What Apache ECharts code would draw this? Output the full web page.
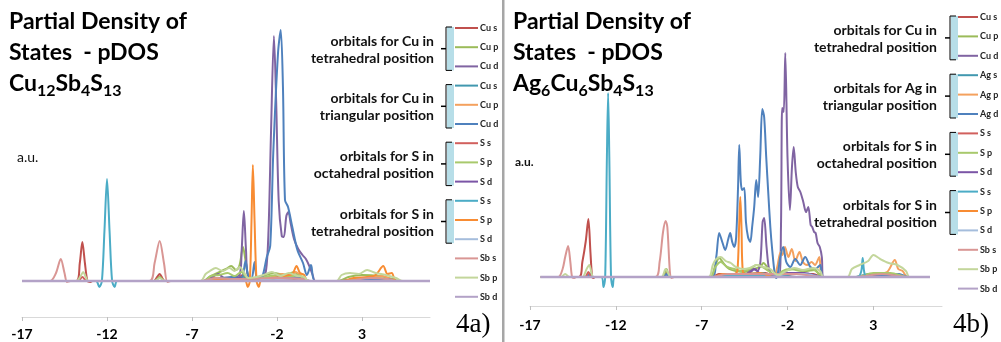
<!DOCTYPE html>
<html>
<head>
<meta charset="utf-8">
<script src="https://cdn.jsdelivr.net/npm/echarts@6/dist/echarts.min.js"></script>
<style>
  html, body { margin: 0; padding: 0; background: #fff; }
  #chart { width: 1001px; height: 342px; }
</style>
</head>
<body>
<div id="chart"></div>
<script>
// energy axis ticks (eV)
const energyTicks = [-17, -12, -7, -2, 3]

const orbitalsA = ['Cu s', 'Cu p', 'Cu d', 'Cu s', 'Cu p', 'Cu d', 'S s', 'S p', 'S d', 'S s', 'S p', 'S d', 'Sb s', 'Sb p', 'Sb d']
const orbitalsB = ['Cu s', 'Cu p', 'Cu d', 'Ag s', 'Ag p', 'Ag d', 'S s', 'S p', 'S d', 'S s', 'S p', 'S d', 'Sb s', 'Sb p', 'Sb d']
const groupsA = ['orbitals for Cu in\ntetrahedral position', 'orbitals for Cu in\ntriangular position', 'orbitals for S in\noctahedral position', 'orbitals for S in\ntetrahedral position']
const groupsB = ['orbitals for Cu in\ntetrahedral position', 'orbitals for Ag in\ntriangular position', 'orbitals for S in\noctahedral position', 'orbitals for S in\ntetrahedral position']
const colors = ['#c0504d', '#9bbb59', '#8064a2', '#4198af', '#f4a15e', '#4f81bd', '#d1605d', '#a8c96c', '#7b55a6', '#4bacc6', '#f88c33', '#a5bddc', '#d99694', '#c3d69b', '#b3a2c7']

// ---- 4a) Cu12Sb4S13, pairs of [energy, pDOS] ----
const a_cuS_tet = [[-17, 0], [-13.8, 0], [-13.6, 1.8], [-13.45, 3.9], [-13.3, 1.8], [-13.15, 0], [-13.0, -0.1], [-12.85, 0], [-9.25, 0], [-9.05, 0.4], [-8.9, 0.7], [-8.75, 0.3], [-8.6, 0], [-6.3, 0], [-6.0, 0.3], [-5.2, 0.3], [-4.4, 0.2], [-4.0, 0.6], [-3.8, 0.3], [-3.0, 0.1], [-2.0, 0.3], [-1.0, 0.2], [-0.5, 0.1], [-0.3, 0], [1.5, 0], [2.5, 0.15], [4, 0.2], [5, 0], [7, 0]]
const a_cuP_tet = [[-17, 0], [-9.2, 0], [-8.9, 0.4], [-8.6, 0], [-6.3, 0], [-6.0, 0.4], [-5.5, 0.8], [-5.0, 1.2], [-4.7, 1.5], [-4.4, 1.1], [-4.2, 1.6], [-4.0, 3.4], [-3.85, 2.0], [-3.7, 0.6], [-3.4, 0.2], [-2.8, 0.5], [-2.2, 0.8], [-1.5, 0.6], [-1.0, 0.9], [-0.6, 0.4], [-0.3, 0], [1.6, 0], [2.2, 0.4], [3.0, 0.6], [4.0, 0.5], [4.8, 0.2], [5.2, 0], [7, 0]]
const a_cuD_tet = [[-17, 0], [-6.3, 0], [-5.9, 0.3], [-5.45, 0.7], [-5.1, 0.3], [-4.6, 0.4], [-4.2, 0.6], [-4.08, 3.0], [-3.95, 7.0], [-3.82, 3.0], [-3.7, 0.5], [-3.3, 0.2], [-2.9, 0.4], [-2.65, 1.0], [-2.5, 5.0], [-2.35, 15], [-2.18, 24.5], [-2.05, 18], [-1.9, 8], [-1.72, 4.5], [-1.6, 4.4], [-1.45, 6.5], [-1.33, 6.9], [-1.2, 5.8], [-1.0, 4.2], [-0.75, 3.2], [-0.5, 2.6], [-0.3, 2.2], [-0.1, 1.5], [0.1, 0.6], [0.25, 0], [1.8, 0], [3, 0.2], [4.5, 0.2], [5, 0], [7, 0]]
const a_cuS_tri = [[-17, 0], [-6.2, 0], [-5.5, 0.2], [-4.8, 0.15], [-3.9, 0.4], [-3.6, 0], [-2.5, 0.3], [-1.5, 0.4], [-0.6, 0.3], [-0.3, 0], [7, 0]]
const a_cuP_tri = [[-17, 0], [-6.2, 0], [-5.6, 0.3], [-4.9, 0.2], [-4.3, 0.3], [-3.9, 0.2], [-3.6, 0], [-2.5, 0.3], [-1.7, 0.7], [-1.2, 0.5], [-0.9, 0.9], [-0.6, 0.5], [-0.3, 0], [1.8, 0], [3.0, 0.2], [4.2, 0.5], [5.0, 0], [7, 0]]
const a_cuD_tri = [[-17, 0], [-6.2, 0], [-5.6, 0.2], [-4.6, 0.4], [-4.1, 0.3], [-3.85, 2.0], [-3.7, 0.5], [-3.5, 0.2], [-3.32, 1.9], [-3.2, 0.3], [-3.0, 0], [-2.8, 0.8], [-2.6, 2.4], [-2.4, 3.5], [-2.22, 12.8], [-1.94, 22.8], [-1.78, 25.1], [-1.65, 19.4], [-1.53, 8.1], [-1.35, 7.4], [-1.1, 5.4], [-0.8, 3.1], [-0.47, 1.8], [-0.24, 0.6], [0, 1.6], [0.24, 0], [1.8, 0], [3, 0.15], [4.5, 0.2], [5, 0], [7, 0]]
const a_sS_oct = [[-17, 0], [-13.7, 0], [-13.45, 0.4], [-13.2, 0], [-6.2, 0], [-5.5, 0.15], [-4.0, 0.2], [-3, 0], [7, 0]]
const a_sP_oct = [[-17, 0], [-6.3, 0], [-5.9, 0.5], [-5.4, 0.6], [-4.9, 0.8], [-4.5, 0.5], [-4.1, 0.9], [-3.8, 0.4], [-3.4, 0.1], [-2.7, 0.4], [-2.0, 0.6], [-1.3, 0.4], [-0.8, 0.6], [-0.4, 0.3], [-0.2, 0], [2.0, 0], [3.0, 0.3], [4.0, 0.3], [5, 0], [7, 0]]
const a_sD_oct = [[-17, 0], [-5, 0], [-4.2, 0.3], [-3.8, 0], [-2.5, 0.2], [-1, 0.3], [0, 0], [7, 0]]
const a_sS_tet = [[-17, 0], [-12.65, 0], [-12.45, -0.6], [-12.3, 0], [-12.15, 5], [-12.0, 10.2], [-11.85, 5], [-11.7, 0], [-11.55, -0.6], [-11.4, 0], [7, 0]]
const a_sP_tet = [[-17, 0], [-6.2, 0], [-5.8, 0.2], [-5.0, 0.2], [-4.3, 0.2], [-3.85, 0], [-3.72, -0.6], [-3.6, 0], [-3.5, 6], [-3.42, 11.6], [-3.32, 6], [-3.2, 0], [-3.07, -0.6], [-2.95, 0], [-2.4, 0.2], [-1.6, 0.5], [-1.1, 0.7], [-0.85, 1.5], [-0.65, 0.8], [-0.4, 0.6], [-0.2, 0], [1.8, 0], [2.5, 0.3], [3.3, 0.4], [3.8, 0.6], [4.25, 1.5], [4.5, 0.7], [4.75, 0.8], [5.0, 0], [7, 0]]
const a_sD_tet = [[-17, 0], [-3.5, 0], [-2.5, 0.2], [-1, 0.25], [0, 0], [7, 0]]
const a_sbS = [[-17, 0], [-15.35, 0], [-15.0, 0.8], [-14.72, 2.2], [-14.5, 0.8], [-14.35, -0.1], [-14.15, 0], [-9.5, 0], [-9.2, 1.8], [-8.9, 4.0], [-8.65, 1.8], [-8.45, -0.1], [-8.25, 0], [-6.5, 0], [-5.5, 0.3], [-4.5, 0.2], [-2, 0.3], [-0.5, 0.2], [0, 0], [2, 0], [3.5, 0.3], [4.5, 0.2], [5, 0], [7, 0]]
const a_sbP = [[-17, 0], [-13.8, 0], [-13.55, 0.5], [-13.4, 0.9], [-13.25, 0.4], [-13.1, 0], [-9.2, 0], [-8.9, 0.3], [-8.6, 0], [-6.5, 0], [-6.2, 0.7], [-5.95, 1.0], [-5.6, 1.3], [-5.2, 1.0], [-4.8, 1.3], [-4.5, 1.0], [-4.2, 1.4], [-3.95, 0.9], [-3.7, 0.3], [-3.2, 0.4], [-2.8, 0.6], [-2.3, 0.9], [-1.8, 0.5], [-1.3, 0.8], [-0.8, 0.5], [-0.4, 0.4], [-0.15, 0], [1.5, 0], [1.8, 0.6], [2.3, 0.8], [2.8, 0.7], [3.3, 1.1], [3.8, 0.8], [4.4, 0.6], [5.0, 0.3], [5.4, 0], [7, 0]]
const a_sbD = [[-17, 0], [7, 0]]

// ---- 4b) Ag6Cu6Sb4S13 ----
const b_cuS_tet = [[-16.4, 0], [-14.15, 0], [-13.95, 1.5], [-13.75, 3.6], [-13.6, 5.8], [-13.48, 2.5], [-13.38, 0], [-13.3, -0.1], [-13.2, 0], [-9.2, 0], [-9.05, 0.4], [-8.9, 0], [-6.4, 0], [-6.0, 0.3], [-5.0, 0.3], [-4.0, 0.3], [-3.3, 0.4], [-2.7, 0], [-1.5, 0.3], [-0.5, 0.3], [0, 0], [6.3, 0]]
const b_cuP_tet = [[-16.4, 0], [-9.3, 0], [-9.05, 0.8], [-8.85, 0], [-6.5, 0], [-6.2, 1.2], [-5.98, 1.9], [-5.7, 1.3], [-5.4, 0.8], [-5.0, 0.6], [-4.5, 0.5], [-4.0, 0.8], [-3.6, 1.0], [-3.4, 1.4], [-3.15, 0.9], [-2.9, 0.3], [-2.6, 0], [-2.3, 0.5], [-1.6, 0.8], [-1.0, 0.6], [-0.4, 0.7], [0, 0], [2, 0], [3, 0.3], [4, 0.3], [5, 0], [6.3, 0]]
const b_cuD_tet = [[-16.4, 0], [-6.4, 0], [-5.2, 0.2], [-4.4, 0.3], [-4.0, 0.8], [-3.75, 0.6], [-3.58, 1.5], [-3.45, 5.5], [-3.36, 5.9], [-3.22, 3.0], [-3.05, 0.6], [-2.8, 0.2], [-2.5, 0], [-2.38, 5], [-2.31, 16.9], [-2.22, 16.5], [-2.13, 22.4], [-2.0, 12], [-1.86, 6.7], [-1.74, 11], [-1.64, 13], [-1.52, 10.5], [-1.4, 9.0], [-1.25, 8.5], [-1.08, 7.5], [-0.92, 6.5], [-0.79, 7.0], [-0.65, 5.2], [-0.56, 5.0], [-0.45, 4.5], [-0.36, 4.4], [-0.25, 3.4], [-0.12, 3.0], [0.0, 2.0], [0.08, 0], [2, 0], [3.5, 0.2], [5, 0], [6.3, 0]]
const b_agS = [[-16.4, 0], [-13.7, 0], [-13.5, 0.3], [-13.3, 0], [-6.3, 0], [-5.5, 0.3], [-4.5, 0.3], [-3.5, 0.4], [-2.7, 0], [-1.5, 0.3], [-0.5, 0.2], [0, 0], [2, 0], [2.8, 0.3], [4, 0.3], [5, 0], [6.3, 0]]
const b_agP = [[-16.4, 0], [-6.3, 0], [-5.5, 0.3], [-4.6, 0.2], [-3.5, 0.3], [-2.8, 0], [-2.6, 1.0], [-2.4, 2.5], [-2.3, 2.2], [-2.15, 3.0], [-1.95, 2.0], [-1.75, 2.8], [-1.55, 1.6], [-1.3, 2.5], [-1.1, 1.5], [-0.85, 1.2], [-0.6, 1.5], [-0.4, 1.2], [-0.15, 2.0], [0.05, 0], [2, 0], [3, 0.3], [3.8, 0.5], [4.25, 1.7], [4.45, 0.8], [4.7, 0.6], [5, 0], [6.3, 0]]
const b_agD = [[-16.4, 0], [-13.7, 0], [-13.55, 0.2], [-13.4, 0], [-9.2, 0], [-9.05, 0.3], [-8.9, 0], [-6.4, 0], [-6.15, 2.0], [-5.98, 4.4], [-5.8, 3.5], [-5.63, 2.7], [-5.45, 3.8], [-5.34, 4.4], [-5.22, 3.5], [-5.1, 3.0], [-4.99, 4.0], [-4.88, 9], [-4.81, 13.2], [-4.72, 9.5], [-4.64, 8.7], [-4.52, 8.9], [-4.42, 5.5], [-4.3, 4.0], [-4.17, 3.5], [-4.06, 5.0], [-3.94, 7.0], [-3.82, 9.7], [-3.71, 8.0], [-3.59, 12.0], [-3.47, 16.8], [-3.36, 16.0], [-3.24, 12], [-3.12, 8.4], [-3.0, 5.0], [-2.89, 2.7], [-2.75, 0.4], [-2.65, -0.1], [-2.55, 0.5], [-2.42, 2.0], [-2.25, 3.0], [-2.07, 1.5], [-1.84, 1.0], [-1.55, 1.8], [-1.26, 1.2], [-0.97, 2.0], [-0.67, 1.0], [-0.38, 0.8], [-0.09, 1.2], [0.08, 0], [2, 0], [2.8, 0.3], [3.6, 0.2], [4.5, 0.3], [5, 0], [6.3, 0]]
const b_sS_oct = [[-16.4, 0], [-13.8, 0], [-13.6, 0.5], [-13.4, 0], [-6.3, 0], [-5.5, 0.2], [-4.5, 0.2], [-3.5, 0.3], [-2.7, 0], [6.3, 0]]
const b_sP_oct = [[-16.4, 0], [-6.5, 0], [-6.2, 1.0], [-5.9, 1.5], [-5.5, 1.0], [-5.1, 0.8], [-4.7, 0.6], [-4.2, 0.8], [-3.8, 1.2], [-3.45, 1.0], [-3.1, 0.6], [-2.8, 0.2], [-2.6, 0], [-2.3, 0.6], [-1.8, 0.8], [-1.2, 0.6], [-0.6, 0.8], [-0.2, 0.4], [0.05, 0], [2, 0], [3, 0.4], [4, 0.4], [5, 0], [6.3, 0]]
const b_sD_oct = [[-16.4, 0], [-5, 0], [-4.3, 0.3], [-3.9, 0.8], [-3.6, 0.3], [-3.2, 0], [-2.0, 0.4], [-1, 0.4], [0, 0], [6.3, 0]]
const b_sS_tet = [[-16.4, 0], [-12.85, 0], [-12.72, -1.0], [-12.62, 0], [-12.52, 12], [-12.45, 18.4], [-12.38, 12], [-12.28, 0], [-12.18, -1.0], [-12.05, 0], [-6.3, 0], [-5, 0.2], [-3.5, 0.2], [-2.7, 0], [2.1, 0], [2.3, 0.6], [2.38, 1.9], [2.46, 0.6], [2.6, 0], [6.3, 0]]
const b_sP_tet = [[-16.4, 0], [-6.3, 0], [-5.8, 0.3], [-5.1, 0.3], [-4.92, 0.6], [-4.82, 5.0], [-4.75, 8.0], [-4.68, 5.0], [-4.6, 0.5], [-4.4, 0.3], [-3.6, 0.4], [-2.8, 0], [6.3, 0]]
const b_sD_tet = [[-16.4, 0], [-3, 0], [-2, 0.3], [-1, 0.3], [0, 0], [6.3, 0]]
const b_sbS = [[-16.4, 0], [-15.35, 0], [-15.1, 0.8], [-14.95, 2.0], [-14.78, 3.1], [-14.65, 1.5], [-14.55, 0], [-14.45, -0.1], [-14.3, 0], [-9.7, 0], [-9.45, 1.5], [-9.25, 4.5], [-9.1, 5.6], [-9.0, 5.0], [-8.85, 0.5], [-8.75, -0.1], [-8.6, 0], [-6.4, 0], [-5.5, 0.3], [-4.5, 0.3], [-3, 0.3], [-1.5, 0.3], [0, 0], [2, 0], [3.5, 0.3], [5, 0], [6.3, 0]]
const b_sbP = [[-16.4, 0], [-15.2, 0], [-14.95, 0.3], [-14.7, 0], [-13.95, 0], [-13.7, 0.8], [-13.55, 1.2], [-13.4, 0.3], [-13.3, 0], [-9.35, 0], [-9.1, 0.8], [-8.9, 0.2], [-8.8, 0], [-6.6, 0], [-6.35, 1.2], [-6.15, 1.8], [-5.9, 2.0], [-5.6, 1.6], [-5.3, 1.4], [-5.0, 1.0], [-4.6, 0.8], [-4.2, 0.9], [-3.8, 1.2], [-3.4, 1.0], [-3.0, 0.8], [-2.7, 0.3], [-2.5, 0.2], [-2.2, 0.5], [-1.6, 0.9], [-1.1, 0.7], [-0.5, 0.9], [-0.1, 0.6], [0.1, 0], [1.5, 0], [1.75, 0.8], [2.2, 1.2], [2.7, 1.6], [3.0, 2.2], [3.4, 1.8], [3.9, 1.4], [4.4, 1.2], [4.9, 0.6], [5.1, 0], [6.3, 0]]
const b_sbD = [[-16.4, 0], [6.3, 0]]

const panelA = [a_cuS_tet, a_cuP_tet, a_cuD_tet, a_cuS_tri, a_cuP_tri, a_cuD_tri, a_sS_oct, a_sP_oct, a_sD_oct, a_sS_tet, a_sP_tet, a_sD_tet, a_sbS, a_sbP, a_sbD]
const panelB = [b_cuS_tet, b_cuP_tet, b_cuD_tet, b_agS, b_agP, b_agD, b_sS_oct, b_sP_oct, b_sD_oct, b_sS_tet, b_sP_tet, b_sD_tet, b_sbS, b_sbP, b_sbD]

const FONT = 'Lato, "Open Sans", sans-serif'

function lineSeries(data, i, axis) {
  return {
    type: 'line',
    xAxisIndex: axis,
    yAxisIndex: axis,
    data: data,
    smooth: 0.3,
    symbol: 'none',
    silent: true,
    lineStyle: { color: colors[i], width: i === 14 ? 2.5 : 2 }
  }
}

function xAxisOf(grid, margin) {
  return {
    type: 'value',
    gridIndex: grid,
    min: -17,
    max: 7,
    splitLine: { show: false },
    axisLine: { onZero: false, lineStyle: { color: '#d9d9d9', width: 1 } },
    axisTick: { customValues: energyTicks, length: 4, lineStyle: { color: '#bfbfbf' } },
    axisLabel: {
      customValues: energyTicks,
      margin: margin,
      color: '#000',
      fontFamily: FONT,
      fontWeight: 'bold',
      fontSize: 14
    }
  }
}

function yAxisOf(grid, min, max) {
  return { type: 'value', gridIndex: grid, min: min, max: max, show: false }
}

function legendGraphics(names, groups, o) {
  const els = []
  const yOf = k => o.y0 + o.dy * k
  names.forEach((name, k) => {
    const y = yOf(k)
    els.push({ type: 'line', silent: true, shape: { x1: o.lineX0, y1: y, x2: o.lineX1, y2: y }, style: { stroke: colors[k], lineWidth: 2 } })
    els.push({ type: 'text', silent: true, x: o.textX, y: y, style: { text: name, font: 'bold 9px ' + FONT, fill: '#222', verticalAlign: 'middle' } })
  })
  groups.forEach((label, g) => {
    const top = yOf(3 * g) - 1
    const bot = yOf(3 * g + 2) + 4
    const mid = (top + bot) / 2
    const bx = o.bracketX
    els.push({ type: 'rect', silent: true, shape: { x: bx + 1, y: top, width: o.fillW, height: bot - top }, style: { fill: '#b7dee8' } })
    els.push({ type: 'polyline', silent: true, shape: { points: [[bx + 6, top], [bx, top], [bx, bot], [bx + 6, bot]] }, style: { stroke: '#000', lineWidth: 1, fill: null } })
    els.push({ type: 'line', silent: true, shape: { x1: bx - 5, y1: mid, x2: bx, y2: mid }, style: { stroke: '#000', lineWidth: 1.5 } })
    els.push({ type: 'text', silent: true, x: o.groupX, y: mid + 1, style: { text: label, font: 'bold 14px ' + FONT, fill: '#111', align: 'right', verticalAlign: 'middle', lineHeight: 17 } })
  })
  return els
}

function titleGraphics(x, formula) {
  return [
    { type: 'text', silent: true, x: x, y: 6, style: { text: 'Partial Density of\nStates  - pDOS', font: 'bold 23px ' + FONT, fill: '#000', lineHeight: 31 } },
    {
      type: 'text', silent: true, x: x, y: 68,
      style: {
        text: formula,
        fill: '#000',
        rich: {
          m: { fontFamily: FONT, fontWeight: 'bold', fontSize: 23, lineHeight: 31 },
          s: { fontFamily: FONT, fontWeight: 'bold', fontSize: 16, lineHeight: 16, verticalAlign: 'bottom' }
        }
      }
    }
  ]
}

const chart = echarts.init(document.getElementById('chart'))

chart.setOption({
  animation: false,
  backgroundColor: '#fff',
  grid: [
    { left: 22, top: 21, width: 408, height: 296 },
    { left: 530, top: 10, width: 412, height: 296 }
  ],
  xAxis: [xAxisOf(0, 10), xAxisOf(1, 12)],
  yAxis: [yAxisOf(0, -3.6, 26.0), yAxisOf(1, -2.9, 26.7)],
  series: panelA.map((d, i) => lineSeries(d, i, 0)).concat(panelB.map((d, i) => lineSeries(d, i, 1))),
  graphic: [
    { type: 'rect', silent: true, shape: { x: 502, y: 0, width: 2.5, height: 342 }, style: { fill: '#a6a6a6' } },
    ...titleGraphics(9, '{m|Cu}{s|12}{m|Sb}{s|4}{m|S}{s|13}'),
    ...titleGraphics(513, '{m|Ag}{s|6}{m|Cu}{s|6}{m|Sb}{s|4}{m|S}{s|13}'),
    { type: 'text', silent: true, x: 17, y: 157, style: { text: 'a.u.', font: '14px ' + FONT, fill: '#111', verticalAlign: 'middle' } },
    { type: 'text', silent: true, x: 515, y: 162, style: { text: 'a.u.', font: 'bold 12px ' + FONT, fill: '#111', verticalAlign: 'middle' } },
    { type: 'text', silent: true, x: 456, y: 325, style: { text: '4a)', font: '27px "Liberation Serif", serif', fill: '#000', verticalAlign: 'middle' } },
    { type: 'text', silent: true, x: 953, y: 325, style: { text: '4b)', font: '27px "Liberation Serif", serif', fill: '#000', verticalAlign: 'middle' } },
    ...legendGraphics(orbitalsA, groupsA, { lineX0: 455, lineX1: 478, textX: 480, y0: 28, dy: 19.2, bracketX: 446, fillW: 7, groupX: 434 }),
    ...legendGraphics(orbitalsB, groupsB, { lineX0: 958, lineX1: 978, textX: 980, y0: 17, dy: 19.4, bracketX: 950, fillW: 7, groupX: 937 })
  ]
})
</script>
</body>
</html>
